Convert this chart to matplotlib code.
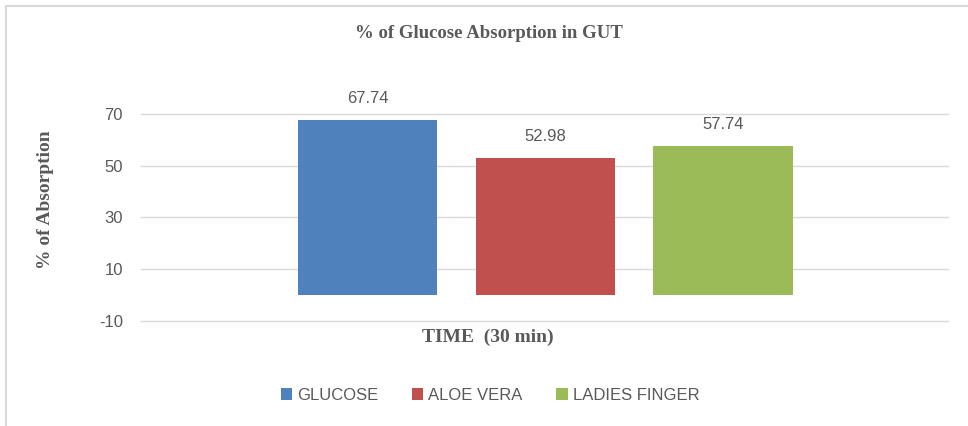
import numpy as np
import matplotlib.pyplot as plt
from matplotlib.lines import Line2D

plt.rcParams['axes.unicode_minus'] = False

# Daten
serien = ['GLUCOSE', 'ALOE VERA', 'LADIES FINGER']
werte = [67.74, 52.98, 57.74]
farben = ['#4F81BD', '#C0504D', '#9BBB59']
kategorie = 'TIME  (30 min)'
yticks = [-10, 10, 30, 50, 70]

grau = '#595959'

fig = plt.figure(figsize=(9.68, 4.26), dpi=100)
ax = fig.add_axes([141/968, 105/426, 807/968, 233/426])

# Balken
breite = 0.173
abstand = 0.2203
mitte = 0.501
for i, (s, w, c) in enumerate(zip(serien, werte, farben)):
    x = mitte + (i - 1) * abstand
    ax.bar(x, w, width=breite, color=c, label=s, zorder=3)
    ax.text(x, w + 5.3, f'{w:.2f}', ha='center', va='bottom',
            fontsize=12, color=grau, family='Liberation Sans')

ax.set_xlim(0, 1)
ax.set_ylim(-10, 80)
ax.set_yticks(yticks)
ax.set_xticks([])
ax.grid(axis='y', color='#D9D9D9', linewidth=1, zorder=0)
for gl in ax.get_ygridlines():
    gl.set_clip_on(False)
for sp in ax.spines.values():
    sp.set_visible(False)
ax.tick_params(axis='y', length=0, pad=13, labelsize=12, labelcolor=grau)
for lbl in ax.get_yticklabels():
    lbl.set_family('Liberation Sans')

# Achsentitel
fig.text(488/968, 1 - 337/426, kategorie, ha='center', va='center',
         fontsize=14, fontweight='bold', family='Liberation Serif', color=grau)
fig.text(45/968, 1 - 200/426, '% of Absorption', ha='center', va='center',
         rotation=90, fontsize=14, fontweight='bold', family='Liberation Serif', color=grau)
fig.text(489/968, 1 - 34/426, '% of Glucose Absorption in GUT', ha='center', va='center',
         fontsize=13.5, fontweight='bold', family='Liberation Serif', color=grau)

# Legende
leg = fig.legend(loc='center', bbox_to_anchor=(490/968, 1 - 395/426), ncol=3,
                 frameon=False, handlelength=0.7, handleheight=0.7,
                 handletextpad=0.3, columnspacing=2.0,
                 prop={'family': 'Liberation Sans', 'size': 12})
for t in leg.get_texts():
    t.set_color(grau)

# Rahmen (nur links und oben sichtbar)
fig.add_artist(Line2D([6/968, 6/968], [0, 1 - 6/426], transform=fig.transFigure,
                      color='#D9D9D9', linewidth=1.5))
fig.add_artist(Line2D([6/968, 1], [1 - 6/426, 1 - 6/426], transform=fig.transFigure,
                      color='#D9D9D9', linewidth=1.5))

plt.savefig('out.png', dpi=100)
